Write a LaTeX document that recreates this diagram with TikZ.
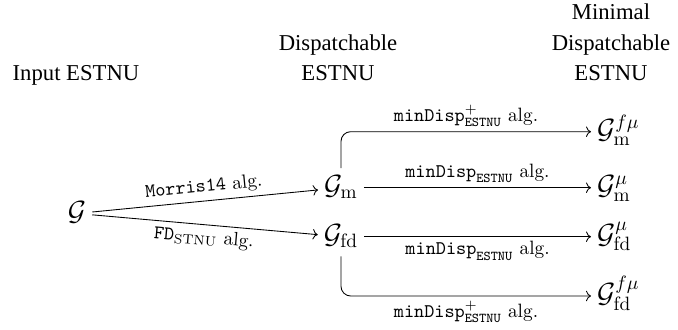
\documentclass[tikz,border=0pt]{standalone}
\usepackage{fontspec}
\newfontfamily\hdfont{Liberation Serif}
\usetikzlibrary{arrows.meta}
\begin{document}
\begin{tikzpicture}[x=0.518pt,y=-0.518pt,
  obj/.style={font=\Large, text height=10.6pt, text depth=3.4pt, inner sep=3pt},
  hd/.style={font=\hdfont\fontsize{11.75}{16}\selectfont, align=center, anchor=base, inner sep=0pt},
  arr/.style={draw, ->, line width=0.45pt},
  lbl/.style={font=\normalsize, inner sep=2.3pt}]
\useasboundingbox (0,0) rectangle (678,330);

% column headings
\node[hd] (h1) at (76,81) {Input ESTNU};
\node[hd] (h2) at (338,81) {Dispatchable\\ESTNU};
\node[hd] (h3) at (611,81) {Minimal\\Dispatchable\\ESTNU};

% objects
\node[obj] (G) at (77,213.5) {$\mathcal{G}$};
\node[obj] (Gm) at (341,187.7) {$\mathcal{G}_{\mathrm{m}}$};
\node[obj] (Gfd) at (341,236.7) {$\mathcal{G}_{\mathrm{fd}}$};
\node[obj, anchor=west] (Gmf) at (591,131.7) {$\mathcal{G}_{\mathrm{m}}^{f\mu}$};
\node[obj, anchor=west] (Gmm) at (591,187.7) {$\mathcal{G}_{\mathrm{m}}^{\mu}$};
\node[obj, anchor=west] (Gfdm) at (591,236.7) {$\mathcal{G}_{\mathrm{fd}}^{\mu}$};
\node[obj, anchor=west] (Gfdf) at (591,296) {$\mathcal{G}_{\mathrm{fd}}^{f\mu}$};

% algorithms
\draw[arr] (G) -- node[lbl, above, sloped] {\texttt{Morris14} alg.} (Gm);
\draw[arr] (G) -- node[lbl, below, sloped] {$\mathtt{FD}_{\mathrm{STNU}}$ alg.} (Gfd);
\draw[arr] (Gm) -- node[lbl, above] {$\mathtt{minDisp}_{\mathtt{ESTNU}}$ alg.} (Gmm);
\draw[arr] (Gfd) -- node[lbl, below] {$\mathtt{minDisp}_{\mathtt{ESTNU}}$ alg.} (Gfdm);
\draw[arr, rounded corners=5pt] (Gm.north) |- node[lbl, above, pos=0.75] {$\mathtt{minDisp}^{+}_{\mathtt{ESTNU}}$ alg.} (Gmf.west);
\draw[arr, rounded corners=5pt] (Gfd.south) |- node[lbl, below, pos=0.75] {$\mathtt{minDisp}^{+}_{\mathtt{ESTNU}}$ alg.} (Gfdf.west);
\end{tikzpicture}
\end{document}
